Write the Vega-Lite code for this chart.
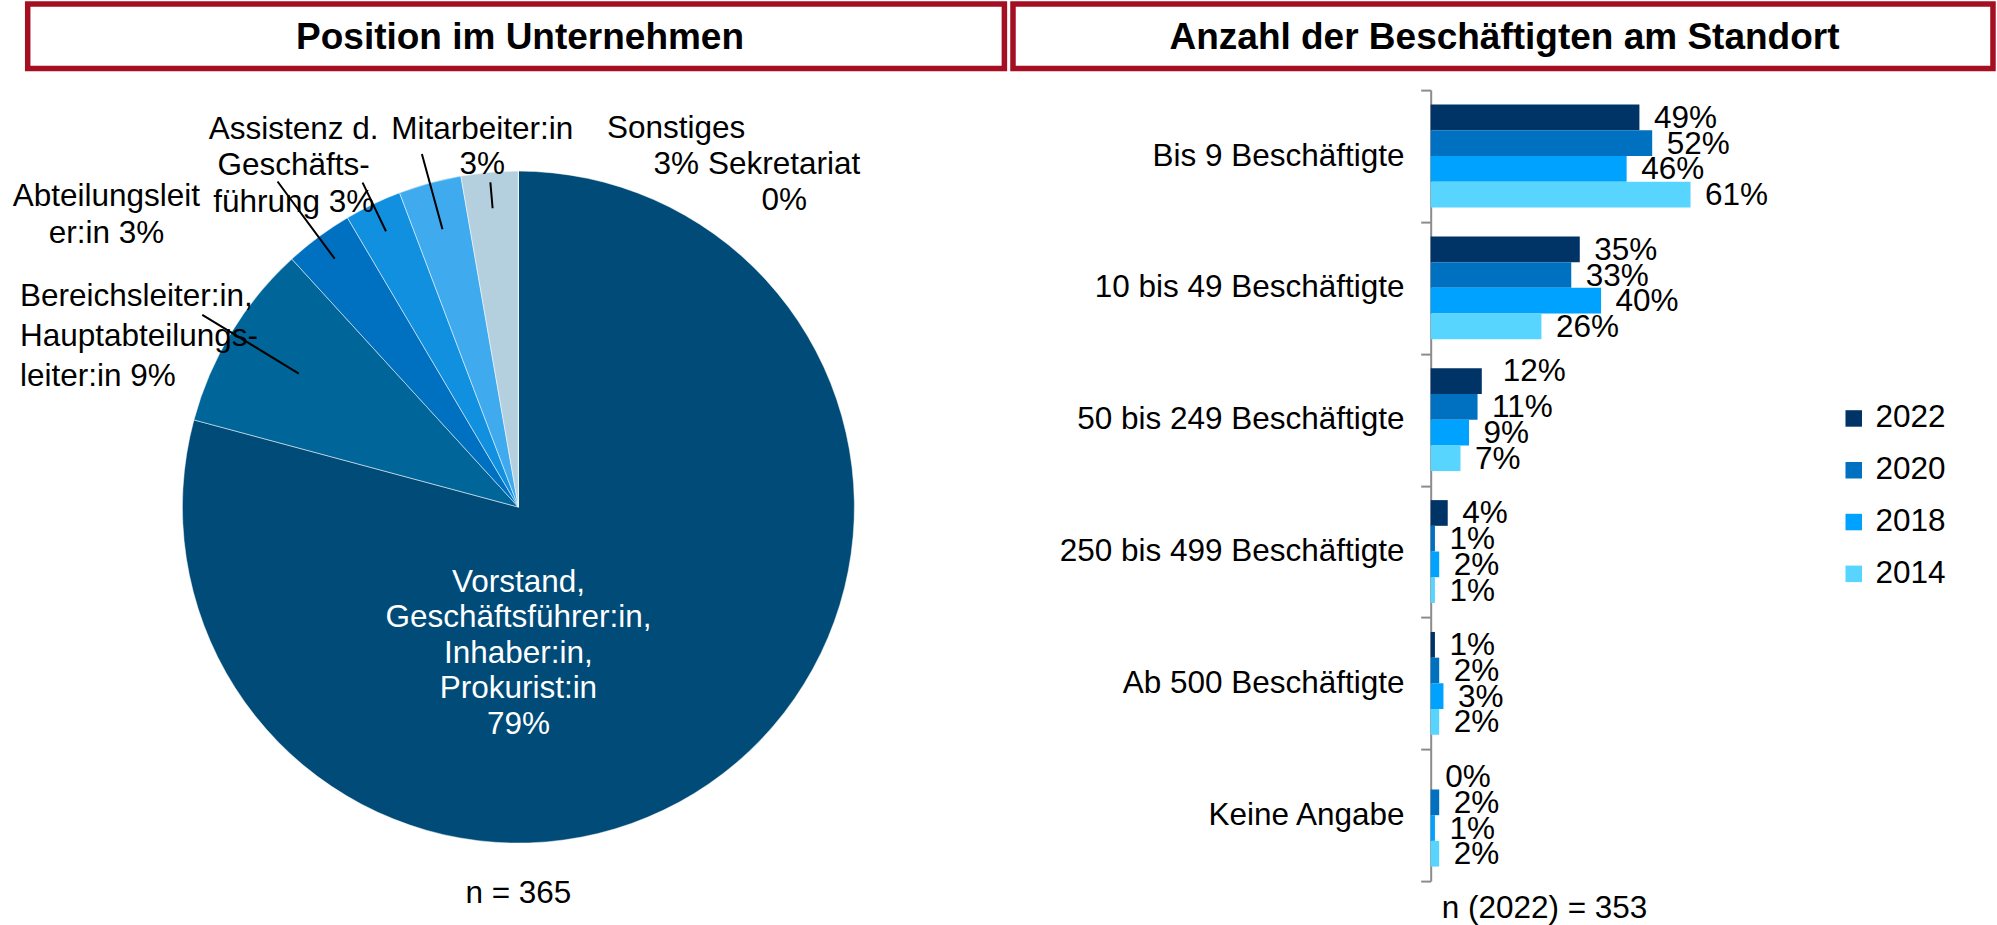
{
  "$schema": "https://vega.github.io/schema/vega-lite/v6.json",
  "background": "white",
  "padding": {"left": 12.7, "top": 1, "right": 0, "bottom": 0},
  "config": {"view": {"stroke": null}, "font": "Liberation Sans"},
  "columns": 2,
  "align": "each",
  "bounds": "flush",
  "spacing": {"row": 21.1, "column": 3.3},
  "resolve": {"scale": {"color": "independent"}, "legend": {"color": "independent"}},
  "concat": [
    {
      "width": 976.7, "height": 64.5,
      "view": {"stroke": "#A50F22", "strokeWidth": 5.5, "fill": "white"},
      "data": {"values": [{"t": "Position im Unternehmen"}]},
      "mark": {"type": "text", "fontSize": 37, "fontWeight": "bold", "fill": "black", "dx": 4, "dy": 2},
      "encoding": {
        "text": {"field": "t"},
        "x": {"field": "t", "type": "nominal", "axis": null},
        "y": {"field": "t", "type": "nominal", "axis": null}
      }
    },
    {
      "width": 980, "height": 64.5,
      "view": {"stroke": "#A50F22", "strokeWidth": 5.5, "fill": "white"},
      "data": {"values": [{"t": "Anzahl der Beschäftigten am Standort"}]},
      "mark": {"type": "text", "fontSize": 37, "fontWeight": "bold", "fill": "black", "dx": 1.5, "dy": 2},
      "encoding": {
        "text": {"field": "t"},
        "x": {"field": "t", "type": "nominal", "axis": null},
        "y": {"field": "t", "type": "nominal", "axis": null}
      }
    },
    {
      "width": 981.4, "height": 834,
      "data": {"values": [
        {"cat": "Vorstand", "i": 1, "n": 289, "label": "Vorstand,\nGeschäftsführer:in,\nInhaber:in,\nProkurist:in\n79%"},
        {"cat": "Bereichsleiter", "i": 2, "n": 33, "label": "Bereichsleiter:in,\nHauptabteilungs-\nleiter:in 9%"},
        {"cat": "Abteilungsleiter", "i": 3, "n": 12, "label": "Abteilungsleit\ner:in 3%"},
        {"cat": "Assistenz", "i": 4, "n": 10, "label": "Assistenz d.\nGeschäfts-\nführung 3%"},
        {"cat": "Mitarbeiter", "i": 5, "n": 11, "label": "Mitarbeiter:in\n3%"},
        {"cat": "Sonstiges", "i": 6, "n": 10, "label": "Sonstiges\n3%"},
        {"cat": "Sekretariat", "i": 7, "n": 0, "label": "Sekretariat\n0%"}
      ]},
      "title": {"text": "n = 365", "orient": "bottom", "offset": -46, "fontSize": 31.5, "fontWeight": "normal", "color": "black"},
      "layer": [
        {
          "mark": {"type": "arc", "radius": 336, "stroke": "#ffffff", "strokeWidth": 1, "strokeOpacity": 0.5},
          "encoding": {
            "theta": {"field": "n", "type": "quantitative", "stack": true, "scale": {"domain": [0, 365]}},
            "order": {"field": "i", "type": "quantitative"},
            "color": {"field": "cat", "type": "nominal",
              "scale": {"domain": ["Vorstand", "Bereichsleiter", "Abteilungsleiter", "Assistenz", "Mitarbeiter", "Sonstiges", "Sekretariat"],
                        "range": ["#004B78", "#00669A", "#0070C0", "#1190E0", "#3FAAEE", "#B4D0DF", "#7FB2D5"]},
              "legend": null}
          }
        },
        {
          "transform": [
            {"stack": "n", "groupby": [], "sort": [{"field": "i", "order": "ascending"}], "as": ["s0", "s1"]},
            {"filter": "datum.cat === 'Bereichsleiter'"}
          ],
          "mark": {"type": "arc", "padAngle": 3, "radius": 370, "radius2": 257, "fill": "transparent", "stroke": "black", "strokeWidth": 2},
          "encoding": {"theta": {"field": "s0", "type": "quantitative"}, "theta2": {"field": "s1"}}
        },
        {
          "transform": [
            {"stack": "n", "groupby": [], "sort": [{"field": "i", "order": "ascending"}], "as": ["s0", "s1"]},
            {"filter": "datum.cat === 'Abteilungsleiter'"}
          ],
          "mark": {"type": "arc", "padAngle": 3, "radius": 405, "radius2": 309, "fill": "transparent", "stroke": "black", "strokeWidth": 2},
          "encoding": {"theta": {"field": "s0", "type": "quantitative"}, "theta2": {"field": "s1"}}
        },
        {
          "transform": [
            {"stack": "n", "groupby": [], "sort": [{"field": "i", "order": "ascending"}], "as": ["s0", "s1"]},
            {"filter": "datum.cat === 'Assistenz'"}
          ],
          "mark": {"type": "arc", "padAngle": 3, "radius": 360, "radius2": 306, "fill": "transparent", "stroke": "black", "strokeWidth": 2},
          "encoding": {"theta": {"field": "s0", "type": "quantitative"}, "theta2": {"field": "s1"}}
        },
        {
          "transform": [
            {"stack": "n", "groupby": [], "sort": [{"field": "i", "order": "ascending"}], "as": ["s0", "s1"]},
            {"filter": "datum.cat === 'Mitarbeiter'"}
          ],
          "mark": {"type": "arc", "padAngle": 3, "radius": 366, "radius2": 288, "fill": "transparent", "stroke": "black", "strokeWidth": 2},
          "encoding": {"theta": {"field": "s0", "type": "quantitative"}, "theta2": {"field": "s1"}}
        },
        {
          "transform": [
            {"stack": "n", "groupby": [], "sort": [{"field": "i", "order": "ascending"}], "as": ["s0", "s1"]},
            {"filter": "datum.cat === 'Sonstiges'"}
          ],
          "mark": {"type": "arc", "padAngle": 3, "radius": 326, "radius2": 300, "fill": "transparent", "stroke": "black", "strokeWidth": 2},
          "encoding": {"theta": {"field": "s0", "type": "quantitative"}, "theta2": {"field": "s1"}}
        },
        {
          "transform": [
            {"stack": "n", "groupby": [], "sort": [{"field": "i", "order": "ascending"}], "as": ["s0", "s1"]},
            {"filter": "datum.cat === 'Vorstand'"}
          ],
          "mark": {"type": "text", "radius": 200, "dx": 0, "dy": 259.5, "align": "center", "baseline": "top", "fontSize": 31.5, "lineHeight": 35.5, "lineBreak": "\n", "fill": "white"},
          "encoding": {"theta": {"field": "s0", "type": "quantitative"}, "text": {"field": "label"}}
        },
        {
          "transform": [
            {"stack": "n", "groupby": [], "sort": [{"field": "i", "order": "ascending"}], "as": ["s0", "s1"]},
            {"filter": "datum.cat === 'Bereichsleiter'"}
          ],
          "mark": {"type": "text", "radius": 380, "dx": -131.5, "dy": -127.6, "align": "left", "baseline": "top", "fontSize": 31.5, "lineHeight": 40, "lineBreak": "\n", "fill": "black"},
          "encoding": {"theta": {"field": "s0", "type": "quantitative"}, "text": {"field": "label"}}
        },
        {
          "transform": [
            {"stack": "n", "groupby": [], "sort": [{"field": "i", "order": "ascending"}], "as": ["s0", "s1"]},
            {"filter": "datum.cat === 'Abteilungsleiter'"}
          ],
          "mark": {"type": "text", "radius": 380, "dx": -155.7, "dy": -45.6, "align": "center", "baseline": "top", "fontSize": 31.5, "lineHeight": 37, "lineBreak": "\n", "fill": "black"},
          "encoding": {"theta": {"field": "s0", "type": "quantitative"}, "text": {"field": "label"}}
        },
        {
          "transform": [
            {"stack": "n", "groupby": [], "sort": [{"field": "i", "order": "ascending"}], "as": ["s0", "s1"]},
            {"filter": "datum.cat === 'Assistenz'"}
          ],
          "mark": {"type": "text", "radius": 380, "dx": -31.4, "dy": -66.4, "align": "center", "baseline": "top", "fontSize": 31.5, "lineHeight": 36.5, "lineBreak": "\n", "fill": "black"},
          "encoding": {"theta": {"field": "s0", "type": "quantitative"}, "text": {"field": "label"}}
        },
        {
          "transform": [
            {"stack": "n", "groupby": [], "sort": [{"field": "i", "order": "ascending"}], "as": ["s0", "s1"]},
            {"filter": "datum.cat === 'Mitarbeiter'"}
          ],
          "mark": {"type": "text", "radius": 380, "dx": 98.3, "dy": -37.4, "align": "center", "baseline": "top", "fontSize": 31.5, "lineHeight": 35, "lineBreak": "\n", "fill": "black"},
          "encoding": {"theta": {"field": "s0", "type": "quantitative"}, "text": {"field": "label"}}
        },
        {
          "transform": [
            {"stack": "n", "groupby": [], "sort": [{"field": "i", "order": "ascending"}], "as": ["s0", "s1"]},
            {"filter": "datum.cat === 'Sonstiges'"}
          ],
          "mark": {"type": "text", "radius": 380, "dx": 222.9, "dy": -20.1, "align": "center", "baseline": "top", "fontSize": 31.5, "lineHeight": 36.6, "lineBreak": "\n", "fill": "black"},
          "encoding": {"theta": {"field": "s0", "type": "quantitative"}, "text": {"field": "label"}}
        },
        {
          "transform": [
            {"stack": "n", "groupby": [], "sort": [{"field": "i", "order": "ascending"}], "as": ["s0", "s1"]},
            {"filter": "datum.cat === 'Sekretariat'"}
          ],
          "mark": {"type": "text", "radius": 380, "dx": 265.8, "dy": 22.1, "align": "center", "baseline": "top", "fontSize": 31.5, "lineHeight": 36, "lineBreak": "\n", "fill": "black"},
          "encoding": {"theta": {"field": "s0", "type": "quantitative"}, "text": {"field": "label"}}
        }
      ]
    },
    {
      "width": 980, "height": 791,
      "data": {"values": [
        {"cat": "Bis 9 Beschäftigte", "year": "2022", "v": 0.49},
        {"cat": "Bis 9 Beschäftigte", "year": "2020", "v": 0.52},
        {"cat": "Bis 9 Beschäftigte", "year": "2018", "v": 0.46},
        {"cat": "Bis 9 Beschäftigte", "year": "2014", "v": 0.61},
        {"cat": "10 bis 49 Beschäftigte", "year": "2022", "v": 0.35},
        {"cat": "10 bis 49 Beschäftigte", "year": "2020", "v": 0.33},
        {"cat": "10 bis 49 Beschäftigte", "year": "2018", "v": 0.40},
        {"cat": "10 bis 49 Beschäftigte", "year": "2014", "v": 0.26},
        {"cat": "50 bis 249 Beschäftigte", "year": "2022", "v": 0.12},
        {"cat": "50 bis 249 Beschäftigte", "year": "2020", "v": 0.11},
        {"cat": "50 bis 249 Beschäftigte", "year": "2018", "v": 0.09},
        {"cat": "50 bis 249 Beschäftigte", "year": "2014", "v": 0.07},
        {"cat": "250 bis 499 Beschäftigte", "year": "2022", "v": 0.04},
        {"cat": "250 bis 499 Beschäftigte", "year": "2020", "v": 0.01},
        {"cat": "250 bis 499 Beschäftigte", "year": "2018", "v": 0.02},
        {"cat": "250 bis 499 Beschäftigte", "year": "2014", "v": 0.01},
        {"cat": "Ab 500 Beschäftigte", "year": "2022", "v": 0.01},
        {"cat": "Ab 500 Beschäftigte", "year": "2020", "v": 0.02},
        {"cat": "Ab 500 Beschäftigte", "year": "2018", "v": 0.03},
        {"cat": "Ab 500 Beschäftigte", "year": "2014", "v": 0.02},
        {"cat": "Keine Angabe", "year": "2022", "v": 0.00},
        {"cat": "Keine Angabe", "year": "2020", "v": 0.02},
        {"cat": "Keine Angabe", "year": "2018", "v": 0.01},
        {"cat": "Keine Angabe", "year": "2014", "v": 0.02}
      ]},
      "title": {"text": "n (2022) = 353", "orient": "bottom", "anchor": "start", "offset": 11, "dx": 428.7, "fontSize": 31.5, "fontWeight": "normal", "color": "black"},
      "encoding": {
        "y": {"field": "cat", "type": "nominal",
          "sort": ["Bis 9 Beschäftigte", "10 bis 49 Beschäftigte", "50 bis 249 Beschäftigte", "250 bis 499 Beschäftigte", "Ab 500 Beschäftigte", "Keine Angabe"],
          "scale": {"paddingInner": 0, "paddingOuter": 0},
          "axis": {"title": null, "offset": -417.7, "domainColor": "#8C8C8C", "domainWidth": 2, "tickColor": "#8C8C8C", "tickWidth": 2, "tickSize": 10, "tickBand": "extent", "labelFontSize": 31.5, "labelColor": "black", "labelPadding": 16.7, "labelLimit": 600}},
        "yOffset": {"field": "year", "type": "nominal", "sort": ["2022", "2020", "2018", "2014"], "scale": {"paddingInner": 0, "paddingOuter": 0.565}},
        "x": {"field": "v", "type": "quantitative", "scale": {"domain": [-0.9805, 1.32], "nice": false}, "axis": null}
      },
      "layer": [
        {
          "mark": {"type": "bar"},
          "encoding": {
            "color": {"field": "year", "type": "nominal",
              "scale": {"domain": ["2022", "2020", "2018", "2014"], "range": ["#003366", "#0070C0", "#00A2FF", "#57D5FF"]},
              "legend": {"title": null, "orient": "none", "legendX": 825, "legendY": 312.6, "symbolType": "square", "symbolSize": 272, "symbolStrokeWidth": 0, "labelFontSize": 31.5, "labelColor": "black", "labelOffset": 6, "rowPadding": 18.8, "padding": 0}}
          }
        },
        {
          "transform": [{"filter": "!(datum.cat === '50 bis 249 Beschäftigte' && datum.year === '2022')"}],
          "mark": {"type": "text", "align": "left", "baseline": "middle", "dx": 14.5, "dy": 1.5, "fontSize": 31.5, "fill": "black"},
          "encoding": {"text": {"field": "v", "type": "quantitative", "format": ".0%"}}
        },
        {
          "transform": [{"filter": "datum.cat === '50 bis 249 Beschäftigte' && datum.year === '2022'"}],
          "mark": {"type": "text", "align": "left", "baseline": "middle", "dx": 21, "dy": -9, "fontSize": 31.5, "fill": "black"},
          "encoding": {"text": {"field": "v", "type": "quantitative", "format": ".0%"}}
        }
      ]
    }
  ]
}
